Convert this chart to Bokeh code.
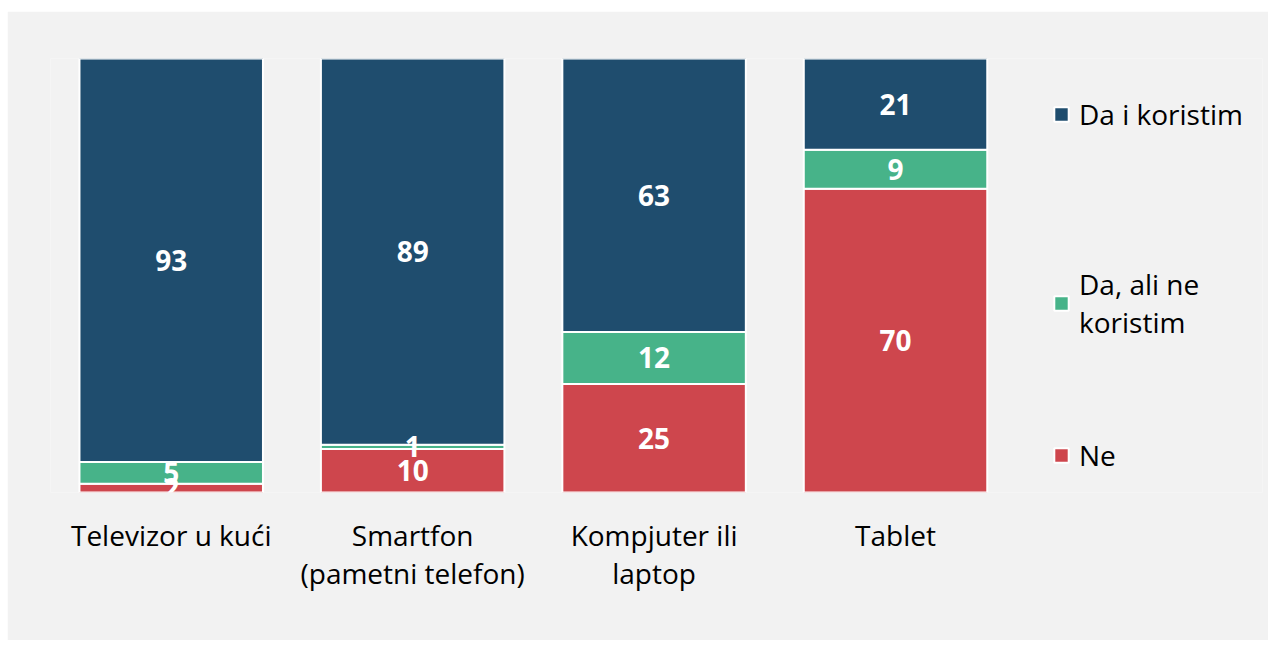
from bokeh.plotting import figure
from bokeh.models import ColumnDataSource, Legend, LegendItem, FixedTicker
from bokeh.core.properties import value
from bokeh.embed import file_html
from bokeh.resources import INLINE

categories = ["Televizor u kući", "Smartfon\n(pametni telefon)", "Kompjuter ili\nlaptop", "Tablet"]
ne = [2, 10, 25, 70]
da_ne_koristim = [5, 1, 12, 9]
da_koristim = [93, 89, 63, 21]
series_names = ["Ne", "Da, ali ne\nkoristim", "Da i koristim"]
colors = ["#ce464d", "#47b389", "#1f4d6e"]

FONT = "Open Sans"
BG = "#f2f2f2"

xpos = list(range(len(categories)))

p = figure(x_range=(-0.5, 4.52), y_range=(0, 100),
           width=1261, height=629, output_backend="svg", toolbar_location=None,
           min_border_left=43, min_border_right=6, min_border_top=47, min_border_bottom=148)
p.styles = {"margin-top": "11px", "margin-left": "7px"}
p.background_fill_color = BG
p.border_fill_color = BG
p.outline_line_color = None
p.grid.visible = False
p.yaxis.visible = False

src = ColumnDataSource(dict(x=xpos, ne=ne, mid=da_ne_koristim, top=da_koristim))
renderers = p.vbar_stack(["ne", "mid", "top"], x="x", width=0.76, source=src,
                         color=colors, line_color="white", line_width=2)

# data labels
bottoms = [0] * len(categories)
for vals in (ne, da_ne_koristim, da_koristim):
    ys = [b + v / 2 for b, v in zip(bottoms, vals)]
    p.text(x=xpos, y=ys, text=[str(v) for v in vals], text_color="white",
           text_font=value(FONT), text_font_style="bold", text_font_size="28px",
           text_align="center", text_baseline="middle")
    bottoms = [b + v for b, v in zip(bottoms, vals)]

xa = p.xaxis[0]
xa.ticker = FixedTicker(ticks=xpos)
xa.major_label_overrides = {i: c for i, c in zip(xpos, categories)}
xa.axis_line_color = None
xa.major_tick_line_color = None
xa.minor_tick_line_color = None
xa.major_tick_out = 0
xa.major_label_standoff = 23
xa.major_label_text_font = FONT
xa.major_label_text_font_size = "28px"
xa.major_label_text_line_height = 1.0
xa.major_label_text_color = "black"

# one legend block per series, top to bottom
legend_bottoms = [359, 151, 18]
for r, name, lb in zip(reversed(renderers), reversed(series_names), legend_bottoms):
    lg = Legend(items=[LegendItem(label=name, renderers=[r])], location=(1002, lb),
                label_text_font=FONT, label_text_font_size="28px", label_text_color="black",
                label_text_line_height=0.88,
                glyph_width=18, glyph_height=18, label_standoff=9, padding=0, margin=0,
                border_line_color=None, background_fill_alpha=0)
    p.add_layout(lg, "center")

open("out.html", "w").write(file_html(p, INLINE))
